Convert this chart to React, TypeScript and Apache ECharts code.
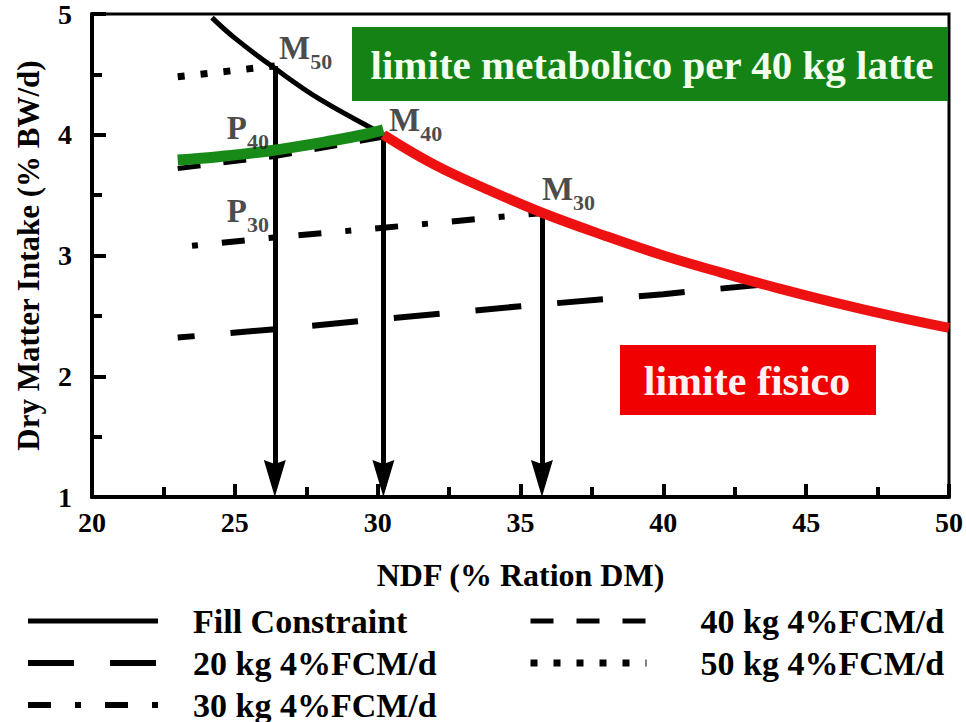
import React, { useEffect, useRef } from "react";
import * as echarts from "echarts";

const FONT = "Liberation Serif";

// Fill constraint curve (NDF %, DMI % BW/d)
const fillNdf = [24.2, 25, 26.4, 28, 30.2, 32, 34, 35.8, 38, 40, 42, 44, 46, 48, 50];
const fillDmi = [4.97, 4.8, 4.55, 4.29, 4.0, 3.75, 3.53, 3.35, 3.16, 3.0, 2.86, 2.73, 2.61, 2.5, 2.4];

// physical limit (red) portion
const redNdf = [30.2, 32, 34, 35.8, 38, 40, 42, 44, 46, 48, 50];
const redDmi = [4.0, 3.75, 3.53, 3.35, 3.16, 3.0, 2.86, 2.73, 2.61, 2.5, 2.4];

// metabolic limit for 40 kg (green)
const greenNdf = [23, 24.5, 26.3, 28.4, 29.5, 30.2];
const greenDmi = [3.79, 3.82, 3.87, 3.95, 4.0, 4.04];

// milk production lines
const kg20Ndf = [23, 26.4, 30, 35, 40, 43.5];
const kg20Dmi = [2.32, 2.39, 2.47, 2.58, 2.68, 2.76];
const kg30Ndf = [23.5, 26.4, 30.2, 35.7];
const kg30Dmi = [3.08, 3.15, 3.23, 3.35];
const kg40Ndf = [23, 26.4, 30.2];
const kg40Dmi = [3.72, 3.82, 3.98];
const kg50Ndf = [23, 26.4];
const kg50Dmi = [4.48, 4.57];

// arrows (NDF, start DMI, DMI at the centre of the arrow head)
const arrowNdf = [26.4, 30.2, 35.75];
const arrowDmi = [4.57, 4.0, 3.36];
const arrowEnd = 1.154;

// point labels
const labelMain = ["M", "P", "M", "M", "P"];
const labelSub = ["50", "40", "40", "30", "30"];
const labelNdf = [26.55, 24.72, 30.4, 35.75, 24.72];
const labelDmi = [4.72, 4.06, 4.12, 3.55, 3.37];

const seriesNames = [
  "Fill Constraint",
  "20 kg 4%FCM/d",
  "30 kg 4%FCM/d",
  "40 kg 4%FCM/d",
  "50 kg 4%FCM/d",
];

const zip = (a: number[], b: number[]) => a.map((v, i) => [v, b[i]]);
const CLEAR = "rgba(0,0,0,0)";
const ARROW_HEAD = "path://M11,0 L22,37 L11,33 L0,37 Z";

export default function App() {
  const ref = useRef<HTMLDivElement>(null);
  useEffect(() => {
    if (!ref.current) return;
    const chart = echarts.init(ref.current, null, { renderer: "svg" });
    const lineBase = { type: "line", symbol: "none", showSymbol: false, z: 3, itemStyle: { color: CLEAR } } as any;
    const arrowData = arrowNdf.map((x, i) => [
      { coord: [x, arrowDmi[i]], symbol: "none" },
      { coord: [x, arrowEnd], symbol: ARROW_HEAD, symbolSize: [22, 37] },
    ]);
    const legendText = { fontFamily: FONT, fontWeight: "bold", fontSize: 34, lineHeight: 34, color: "#000" };
    const tickStyle = { width: 4, color: "#000" };
    const option: any = {
      animation: false,
      backgroundColor: "#ffffff",
      grid: {
        left: 92,
        top: 14,
        right: 12,
        bottom: 225,
        show: true,
        borderColor: "#000",
        borderWidth: 3,
        backgroundColor: "transparent",
      },
      xAxis: {
        type: "value",
        min: 20,
        max: 50,
        interval: 5,
        name: "NDF (% Ration DM)",
        nameLocation: "middle",
        nameGap: 62,
        nameTextStyle: { fontFamily: FONT, fontWeight: "bold", fontSize: 32, color: "#000" },
        axisLine: { lineStyle: { color: "#000", width: 4 } },
        axisTick: { inside: true, length: 13, lineStyle: tickStyle },
        minorTick: { show: true, splitNumber: 2, length: 10, lineStyle: tickStyle },
        axisLabel: { fontFamily: FONT, fontWeight: "bold", fontSize: 28, color: "#000", margin: 11 },
        splitLine: { show: false },
      },
      yAxis: {
        type: "value",
        min: 1,
        max: 5,
        interval: 1,
        name: "Dry Matter Intake (% BW/d)",
        nameLocation: "middle",
        nameGap: 48,
        nameTextStyle: { fontFamily: FONT, fontWeight: "bold", fontSize: 31, color: "#000" },
        axisLine: { lineStyle: { color: "#000", width: 4 } },
        axisTick: { inside: true, length: 14, lineStyle: tickStyle },
        minorTick: { show: true, splitNumber: 2, length: 10, lineStyle: tickStyle },
        axisLabel: { fontFamily: FONT, fontWeight: "bold", fontSize: 28, color: "#000", margin: 20 },
        splitLine: { show: false },
      },
      legend: [
        {
          left: 25,
          top: 604,
          height: 150,
          padding: 0,
          orient: "vertical",
          data: seriesNames.slice(0, 3),
          itemWidth: 130,
          itemHeight: 14,
          itemGap: 8,
          lineStyle: { width: "inherit", dashOffset: 0 },
          textStyle: { ...legendText, padding: [0, 0, 0, 30] },
        },
        {
          left: 527,
          top: 604,
          height: 150,
          padding: 0,
          orient: "vertical",
          data: seriesNames.slice(3, 5),
          itemWidth: 116,
          itemHeight: 14,
          itemGap: 8,
          lineStyle: { width: "inherit", dashOffset: 0 },
          textStyle: { ...legendText, padding: [0, 0, 0, 49] },
        },
      ],
      series: [
        {
          ...lineBase,
          name: seriesNames[0],
          data: zip(fillNdf, fillDmi),
          smooth: 0.4,
          lineStyle: { color: "#000", width: 5, type: "solid" },
          markLine: {
            silent: true,
            symbol: ["none", ARROW_HEAD],
            label: { show: false },
            lineStyle: { color: "#000", width: 5, type: "solid" },
            itemStyle: { color: "#000" },
            data: arrowData,
          },
        },
        {
          ...lineBase,
          name: seriesNames[1],
          data: zip(kg20Ndf, kg20Dmi),
          lineStyle: { color: "#000", width: 6, type: [46, 36], dashOffset: 29 },
        },
        {
          ...lineBase,
          name: seriesNames[2],
          data: zip(kg30Ndf, kg30Dmi),
          lineStyle: { color: "#000", width: 6, type: [23, 24, 6, 24], dashOffset: 47 },
        },
        {
          ...lineBase,
          name: seriesNames[3],
          data: zip(kg40Ndf, kg40Dmi),
          lineStyle: { color: "#000", width: 5, type: [23, 23] },
        },
        {
          ...lineBase,
          name: seriesNames[4],
          data: zip(kg50Ndf, kg50Dmi),
          lineStyle: { color: "#000", width: 7, type: [7, 16] },
        },
        {
          ...lineBase,
          name: "limite fisico",
          data: zip(redNdf, redDmi),
          smooth: 0.4,
          z: 5,
          lineStyle: { color: "#ee1111", width: 10 },
        },
        {
          ...lineBase,
          name: "limite metabolico",
          data: zip(greenNdf, greenDmi),
          smooth: 0.4,
          z: 5,
          lineStyle: { color: "#188a18", width: 11 },
        },
        {
          type: "scatter",
          name: "labels",
          symbolSize: 0,
          z: 6,
          silent: true,
          data: labelNdf.map((x, i) => ({
            value: [x, labelDmi[i]],
            label: {
              show: true,
              position: "right",
              distance: 0,
              formatter: `{m|${labelMain[i]}}{s|${labelSub[i]}}`,
              rich: {
                m: { fontFamily: FONT, fontWeight: "bold", fontSize: 33, color: "#1a1a1a", verticalAlign: "bottom" },
                s: { fontFamily: FONT, fontWeight: "bold", fontSize: 22, color: "#1a1a1a", verticalAlign: "bottom", padding: [0, 0, -8, 0] },
              },
            },
          })),
        },
      ],
      graphic: [
        {
          type: "rect",
          shape: { x: 352, y: 27, width: 596, height: 74 },
          style: { fill: "#148214" },
          z: 10,
        },
        {
          type: "text",
          x: 652,
          y: 65,
          style: {
            text: "limite metabolico per 40 kg latte",
            fill: "#f2ffec",
            fontFamily: FONT,
            fontWeight: "bold",
            fontSize: 41,
            align: "center",
            verticalAlign: "middle",
          },
          z: 11,
        },
        {
          type: "rect",
          shape: { x: 620, y: 345, width: 256, height: 70 },
          style: { fill: "#f00000" },
          z: 10,
        },
        {
          type: "text",
          x: 747,
          y: 381,
          style: {
            text: "limite fisico",
            fill: "#fff2f2",
            fontFamily: FONT,
            fontWeight: "bold",
            fontSize: 42,
            align: "center",
            verticalAlign: "middle",
          },
          z: 11,
        },
      ],
    };
    chart.setOption(option);
    return () => chart.dispose();
  }, []);
  return <div ref={ref} style={{ width: 966, height: 722, position: "absolute", left: 0, top: 0 }} />;
}
